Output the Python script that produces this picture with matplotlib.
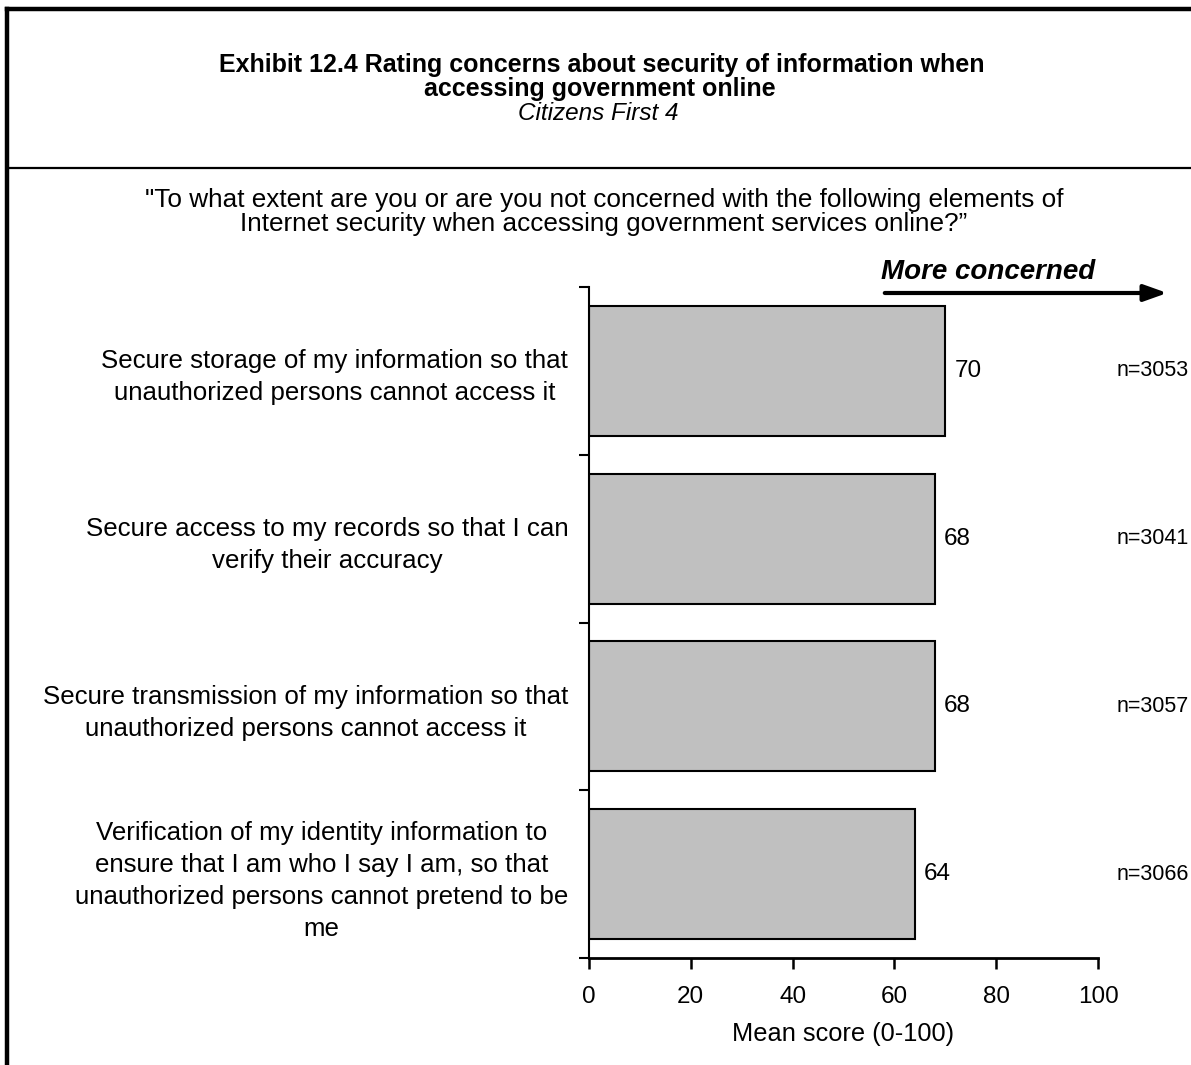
import matplotlib
matplotlib.use("Agg")
import matplotlib.pyplot as plt
from matplotlib.lines import Line2D
from matplotlib.patches import FancyArrowPatch
from matplotlib.ticker import FixedLocator

plt.rcParams['font.family'] = ['Liberation Sans', 'DejaVu Sans']

categories = [
    "Secure storage of my information so that\nunauthorized persons cannot access it",
    "Secure access to my records so that I can\nverify their accuracy",
    "Secure transmission of my information so that\nunauthorized persons cannot access it",
    "Verification of my identity information to\nensure that I am who I say I am, so that\nunauthorized persons cannot pretend to be\nme",
]
mean_scores = [70, 68, 68, 64]
sample_sizes = ["n=3053", "n=3041", "n=3057", "n=3066"]
x_ticks = [0, 20, 40, 60, 80, 100]

W, H = 1191, 1065
fig = plt.figure(figsize=(W / 100, H / 100), dpi=100)
fig.patch.set_facecolor("white")

def fx(px):
    return px / W

def fy(py):
    return 1 - py / H

# frame lines around the exhibit
fig.add_artist(Line2D([fx(7), 1], [fy(9), fy(9)], color="black", lw=3.2))
fig.add_artist(Line2D([fx(7), fx(7)], [fy(9), 0], color="black", lw=3.2))
fig.add_artist(Line2D([fx(7), 1], [fy(168), fy(168)], color="black", lw=1.6))

# heading block
fig.text(fx(602), fy(65), "Exhibit 12.4 Rating concerns about security of information when",
         ha="center", va="center", fontsize=18, fontweight="bold")
fig.text(fx(600), fy(89), "accessing government online",
         ha="center", va="center", fontsize=18, fontweight="bold")
fig.text(fx(598), fy(113), "Citizens First 4",
         ha="center", va="center", fontsize=17.5, style="italic")

fig.text(fx(604), fy(200),
         "\"To what extent are you or are you not concerned with the following elements of",
         ha="center", va="center", fontsize=18.8)
fig.text(fx(604), fy(224),
         "Internet security when accessing government services online?\u201d",
         ha="center", va="center", fontsize=18.8)

# plotting area
ax = fig.add_axes([fx(589), fy(958), fx(1098) - fx(589), fy(287) - fy(958)])
ypos = list(range(len(categories)))
ax.barh(ypos, mean_scores, height=0.775, color="#C0C0C0", edgecolor="black", linewidth=1.5)

ax.set_xlim(0, 100)
ax.set_ylim(len(categories) - 0.5, -0.5)

ax.set_xticks(x_ticks)
ax.set_xticklabels([str(t) for t in x_ticks], fontsize=17.5)
ax.tick_params(axis="x", direction="out", length=8, width=1.8, pad=12)

ax.set_yticks(ypos)
ax.set_yticklabels(categories, fontsize=18.6, linespacing=1.42)
for lbl in ax.get_yticklabels():
    lbl.set_multialignment("center")
ax.tick_params(axis="y", which="major", length=0, pad=15)
ax.yaxis.set_minor_locator(FixedLocator([i - 0.5 for i in range(len(categories) + 1)]))
ax.tick_params(axis="y", which="minor", direction="out", length=7, width=1.5)

ax.set_xlabel("Mean score (0-100)", fontsize=18.3, labelpad=10)

for side in ("top", "right"):
    ax.spines[side].set_visible(False)
ax.spines["left"].set_linewidth(1.5)
ax.spines["bottom"].set_linewidth(2)

for y, v, n in zip(ypos, mean_scores, sample_sizes):
    ax.annotate(str(v), xy=(v, y), xytext=(9, 0), textcoords="offset pixels",
                ha="left", va="center", fontsize=17.5)
    ax.text(103.6, y, n, ha="left", va="center", fontsize=15.5, clip_on=False)

# direction indicator
fig.text(fx(881), fy(272), "More concerned", ha="left", va="center",
         fontsize=20, fontweight="bold", style="italic")
fig.add_artist(FancyArrowPatch(
    (fx(882), fy(293)), (fx(1170), fy(293)), transform=fig.transFigure,
    arrowstyle="-|>,head_length=14,head_width=5", mutation_scale=1,
    color="black", lw=3.0))

fig.savefig("out.png", dpi=100, facecolor="white")
